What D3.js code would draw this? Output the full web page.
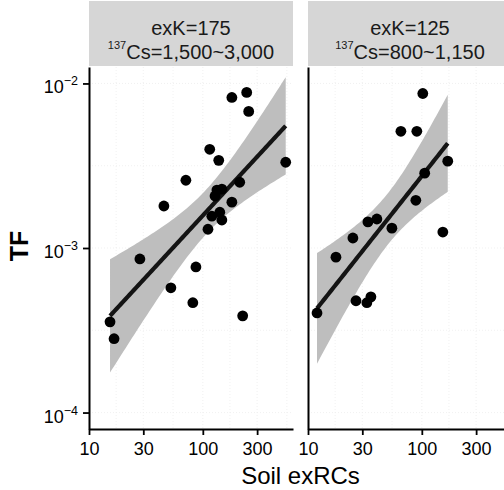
<!DOCTYPE html>
<html>
<head>
<meta charset="utf-8">
<script src="https://cdn.jsdelivr.net/npm/d3@7"></script>
<style>
    body { margin: 0; background: #fff; }
    text { font-family: "Liberation Sans", Arial, sans-serif; fill: #000; }
</style>
</head>
<body>
<svg class="tf-chart"></svg>
<script>
// Panel labels
const exK = ["exK=175", "exK=125"];
const csRange = ["Cs=1,500~3,000", "Cs=800~1,150"];

// exK=175 panel: soil exRCs vs TF
const soilA = [180, 243, 253, 115, 138, 535, 71, 211, 133, 147, 128, 180, 45.5, 120, 141, 147, 111, 28, 87, 52.4, 81.7, 15.3, 16.6, 224];
const tfA = [0.00822, 0.00882, 0.00676, 0.00398, 0.00341, 0.00332, 0.00258, 0.00251, 0.00225, 0.00228, 0.00207, 0.0019, 0.0018, 0.00156, 0.00165, 0.00148, 0.0013, 0.000858, 0.000767, 0.000573, 0.000465, 0.000356, 0.000281, 0.000387];

// exK=125 panel
const soilB = [102, 65.5, 90.4, 169, 106, 88.6, 33.6, 40.3, 54.6, 24.8, 153, 17.6, 26.4, 32.9, 35.7, 12];
const tfB = [0.00869, 0.00512, 0.00512, 0.00337, 0.00285, 0.00195, 0.00144, 0.0015, 0.00132, 0.00115, 0.00125, 0.00088, 0.000478, 0.000465, 0.000505, 0.000403];

// Axis ticks
const xTicks = [10, 30, 100, 300];
const yTicks = [1e-4, 1e-3, 1e-2];
const yExponents = ["−4", "−3", "−2"];

function drawChart() {

    const width = 504;
    const height = 490;
    const panelW = 204;
    const panelH = 362;
    const panelLeft = [89, 308];
    const panelTop = 67;

    const svg = d3.select(".tf-chart")
        .attr("width", width)
        .attr("height", height);

    const x = d3.scaleLog().domain([10, 620]).range([0, panelW]);
    const y = d3.scaleLog().domain([10 ** -4.1, 10 ** -1.9]).range([panelH, 0]);

    // gridlines at majors and log midpoints
    const xGrid = [...xTicks, 1000];
    const xMinor = d3.pairs(xGrid).map(([a, b]) => Math.sqrt(a * b));
    const yMinor = d3.pairs(yTicks).map(([a, b]) => Math.sqrt(a * b));

    const panels = [
        { soil: soilA, tf: tfA },
        { soil: soilB, tf: tfB }
    ];

    panels.forEach((p, idx) => {
        const g = svg.append("g")
            .attr("transform", `translate(${panelLeft[idx]}, ${panelTop})`);

        // strip
        g.append("rect")
            .attr("x", 0)
            .attr("y", -66)
            .attr("width", panelW)
            .attr("height", 65)
            .attr("fill", "#d6d6d6");

        g.append("text")
            .attr("x", panelW / 2)
            .attr("y", -32)
            .attr("text-anchor", "middle")
            .attr("font-size", "20px")
            .style("fill", "#1a1a1a")
            .text(exK[idx]);

        const strip2 = g.append("text")
            .attr("x", panelW / 2)
            .attr("y", -8)
            .attr("text-anchor", "middle")
            .attr("font-size", "20px")
            .style("fill", "#1a1a1a");
        strip2.append("tspan")
            .attr("font-size", "11px")
            .attr("dy", "-10")
            .text("137");
        strip2.append("tspan")
            .attr("dy", "10")
            .text(csRange[idx]);

        // faint grid
        const grid = g.append("g")
            .attr("stroke", "#ededed")
            .attr("stroke-width", 0.8)
            .attr("stroke-dasharray", "1,2");
        grid.selectAll(".gx")
            .data([...xTicks, ...xMinor].filter(d => x(d) > 0 && x(d) < panelW))
            .join("line")
            .attr("x1", d => x(d)).attr("x2", d => x(d))
            .attr("y1", 0).attr("y2", panelH);
        grid.selectAll(".gy")
            .data([...yTicks, ...yMinor])
            .join("line")
            .attr("x1", 0).attr("x2", panelW)
            .attr("y1", d => y(d)).attr("y2", d => y(d));

        // lm fit with 95% CI in log-log space
        const fit = fitLine(p.soil, p.tf);

        g.append("path")
            .datum(fit)
            .attr("fill", "#bebebe")
            .attr("d", d3.area()
                .x(d => x(d.x))
                .y0(d => y(d.lo))
                .y1(d => y(d.hi)));

        g.append("path")
            .datum(fit)
            .attr("fill", "none")
            .attr("stroke", "#141414")
            .attr("stroke-width", 4.2)
            .attr("d", d3.line()
                .x(d => x(d.x))
                .y(d => y(d.fit)));

        g.selectAll(".dot")
            .data(p.soil.map((s, i) => ({ s, t: p.tf[i] })))
            .join("circle")
            .attr("class", "dot")
            .attr("cx", d => x(d.s))
            .attr("cy", d => y(d.t))
            .attr("r", 5.4)
            .attr("fill", "#000");

        // x axis
        const xAxis = g.append("g")
            .attr("transform", `translate(0, ${panelH})`)
            .call(d3.axisBottom(x)
                .tickValues(xTicks)
                .tickFormat(d3.format("d"))
                .tickSize(6)
                .tickSizeOuter(0)
                .tickPadding(7));
        xAxis.selectAll("text")
            .attr("font-size", "18px")
            .attr("font-family", "Liberation Sans, Arial, sans-serif")
            .attr("fill", "#000");

        // y axis (ticks/labels only on left panel)
        const yAxis = g.append("g")
            .call(d3.axisLeft(y)
                .tickValues(idx === 0 ? yTicks : [])
                .tickFormat("")
                .tickSize(6)
                .tickSizeOuter(0));

        [xAxis, yAxis].forEach(a => {
            a.select(".domain").attr("stroke", "#000").attr("stroke-width", 2);
            a.selectAll(".tick line").attr("stroke", "#000").attr("stroke-width", 1.8);
        });

        if (idx === 0) {
            yTicks.forEach((t, i) => {
                const lab = g.append("text")
                    .attr("x", -11)
                    .attr("y", y(t))
                    .attr("dy", "10")
                    .attr("text-anchor", "end")
                    .attr("font-size", "18px");
                lab.append("tspan").text("10");
                lab.append("tspan")
                    .attr("font-size", "12.5px")
                    .attr("dy", "-8")
                    .text(yExponents[i]);
            });
        }
    });

    // axis titles
    svg.append("text")
        .attr("x", (panelLeft[0] + panelLeft[1] + panelW) / 2)
        .attr("y", 484)
        .attr("text-anchor", "middle")
        .attr("font-size", "24px")
        .text("Soil exRCs");

    svg.append("text")
        .attr("x", 28)
        .attr("y", 246)
        .attr("text-anchor", "middle")
        .attr("font-size", "25px")
        .attr("font-weight", "bold")
        .attr("transform", "rotate(-90, 28, 246)")
        .text("TF");
}

// OLS on log10 values, 95% confidence band
function fitLine(xs, ys) {
    const lx = xs.map(Math.log10);
    const ly = ys.map(Math.log10);
    const n = lx.length;
    const mx = d3.mean(lx);
    const my = d3.mean(ly);
    const sxx = d3.sum(lx, v => (v - mx) ** 2);
    const slope = d3.sum(lx, (v, i) => (v - mx) * (ly[i] - my)) / sxx;
    const icpt = my - slope * mx;
    const rss = d3.sum(lx, (v, i) => (ly[i] - icpt - slope * v) ** 2);
    const se = Math.sqrt(rss / (n - 2));
    const t = tQuantile(n - 2);
    const [lo, hi] = d3.extent(lx);

    return d3.range(81).map(k => {
        const g = lo + (hi - lo) * k / 80;
        const f = icpt + slope * g;
        const h = t * se * Math.sqrt(1 / n + (g - mx) ** 2 / sxx);
        return { x: 10 ** g, fit: 10 ** f, lo: 10 ** (f - h), hi: 10 ** (f + h) };
    });
}

// Cornish-Fisher approx of the 97.5% t quantile
function tQuantile(df) {
    const z = 1.959964;
    return z + (z ** 3 + z) / (4 * df) + (5 * z ** 5 + 16 * z ** 3 + 3 * z) / (96 * df ** 2);
}

drawChart()
</script>
</body>
</html>
